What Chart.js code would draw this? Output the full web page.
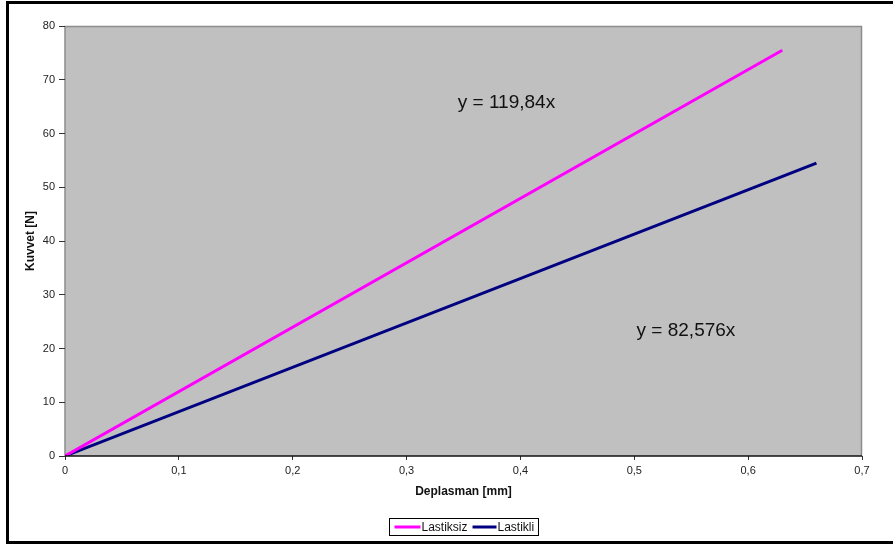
<!DOCTYPE html>
<html>
<head>
<meta charset="utf-8">
<script src="https://cdn.jsdelivr.net/npm/chart.js@4/dist/chart.umd.min.js"></script>
<style>
html,body{margin:0;padding:0;background:#fff;}
#wrap{width:893px;height:544px;position:relative;}
</style>
</head>
<body>
<div id="wrap"><canvas id="c" width="893" height="544"></canvas></div>
<script>
// ---- data ----
const seriesNames = ['Lastiksiz', 'Lastikli'];
const lastiksizX = [0, 0.63];
const lastiksizY = [0, 75.5];
const lastikliX = [0, 0.66];
const lastikliY = [0, 54.5];
const equationTexts = ['y = 119,84x', 'y = 82,576x'];
const xTitle = 'Deplasman [mm]';
const yTitle = 'Kuvvet [N]';

// ---- styles / positions ----
const colors = ['#ff00ff', '#000080'];
const eqPos = [{x: 0.345, y: 65.7}, {x: 0.502, y: 23.3}];
const FONT = '"Liberation Sans", Arial, sans-serif';

function pts(xs, ys) { return xs.map((x, i) => ({x: x, y: ys[i]})); }

const bgPlugin = {
  id: 'bg',
  beforeDraw(chart) {
    const {ctx, chartArea: a} = chart;
    ctx.save();
    ctx.fillStyle = '#fff';
    ctx.fillRect(0, 0, chart.width, chart.height);
    ctx.fillStyle = '#c0c0c0';
    ctx.fillRect(a.left, a.top, a.right - a.left, a.bottom - a.top);
    ctx.strokeStyle = '#8c8c8c';
    ctx.lineWidth = 1.5;
    ctx.beginPath();
    ctx.moveTo(a.left, a.bottom);
    ctx.lineTo(a.left, a.top + 0.5);
    ctx.lineTo(a.right - 0.5, a.top + 0.5);
    ctx.lineTo(a.right - 0.5, a.bottom);
    ctx.stroke();
    ctx.restore();
  },
  afterDraw(chart) {
    const {ctx, chartArea: a, scales} = chart;
    ctx.save();
    // bottom axis line
    ctx.strokeStyle = '#111';
    ctx.lineWidth = 1.5;
    ctx.beginPath();
    ctx.moveTo(a.left, a.bottom);
    ctx.lineTo(a.right, a.bottom);
    ctx.stroke();
    // equations
    ctx.fillStyle = '#111';
    ctx.font = '19px ' + FONT;
    ctx.textBaseline = 'middle';
    ctx.textAlign = 'left';
    equationTexts.forEach((t, i) => {
      ctx.fillText(t, scales.x.getPixelForValue(eqPos[i].x), scales.y.getPixelForValue(eqPos[i].y));
    });
    // legend
    ctx.font = '12px ' + FONT;
    const lineLen = [26, 24];
    const gap = 1;
    const between = 5;
    const padL = 5, padR = 4;
    let total = padL + padR;
    chart.data.datasets.forEach((d, i) => {
      total += lineLen[i] + gap + ctx.measureText(d.label).width + (i ? 0 : between);
    });
    const cx = (a.left + a.right) / 2;
    const boxL = Math.round(cx - total / 2) + 0.5;
    const boxT = 518.5, boxH = 17;
    ctx.strokeStyle = '#000';
    ctx.lineWidth = 1;
    ctx.strokeRect(boxL, boxT, Math.round(total), boxH);
    let x = boxL + padL;
    const ly = boxT + boxH / 2;
    chart.data.datasets.forEach((d, i) => {
      ctx.strokeStyle = d.borderColor;
      ctx.lineWidth = 3;
      ctx.beginPath();
      ctx.moveTo(x, ly);
      ctx.lineTo(x + lineLen[i], ly);
      ctx.stroke();
      x += lineLen[i] + gap;
      ctx.fillStyle = '#111';
      ctx.fillText(d.label, x, ly + 0.5);
      x += ctx.measureText(d.label).width + between;
    });
    // outer frame
    ctx.strokeStyle = '#000';
    ctx.lineWidth = 3;
    ctx.strokeRect(7.5, 2.5, 893, 540);
    ctx.restore();
  }
};

new Chart(document.getElementById('c'), {
  type: 'scatter',
  data: {
    datasets: [
      {label: seriesNames[0], data: pts(lastiksizX, lastiksizY), showLine: true,
       borderColor: colors[0], backgroundColor: colors[0], borderWidth: 3, pointRadius: 0, tension: 0},
      {label: seriesNames[1], data: pts(lastikliX, lastikliY), showLine: true,
       borderColor: colors[1], backgroundColor: colors[1], borderWidth: 3, pointRadius: 0, tension: 0}
    ]
  },
  options: {
    responsive: false,
    animation: false,
    layout: {padding: {left: 8, top: 26, right: 31, bottom: 44}},
    plugins: {legend: {display: false}, tooltip: {enabled: false}},
    scales: {
      x: {
        type: 'linear', min: 0, max: 0.7,
        border: {display: false},
        grid: {display: true, drawOnChartArea: false, tickLength: 4, color: '#333', lineWidth: 1},
        ticks: {stepSize: 0.1, padding: 4, color: '#222', font: {family: FONT, size: 11},
                maxRotation: 0,
                callback: v => (Math.round(v * 10) / 10).toString().replace('.', ',')},
        title: {display: true, text: xTitle, color: '#111', font: {family: FONT, size: 12, weight: 'bold'},
                padding: {top: 0, bottom: 1}},
        afterFit: s => { s.height = 44; }
      },
      y: {
        type: 'linear', min: 0, max: 80,
        border: {display: false},
        grid: {display: true, drawOnChartArea: false, tickLength: 6, color: '#333', lineWidth: 1},
        ticks: {stepSize: 10, padding: 4, color: '#222', font: {family: FONT, size: 11}},
        title: {display: true, text: yTitle, color: '#111', font: {family: FONT, size: 12, weight: 'bold'},
                padding: {top: 15, bottom: 0}},
        afterFit: s => { s.width = 57; }
      }
    }
  },
  plugins: [bgPlugin]
});
</script>
</body>
</html>
